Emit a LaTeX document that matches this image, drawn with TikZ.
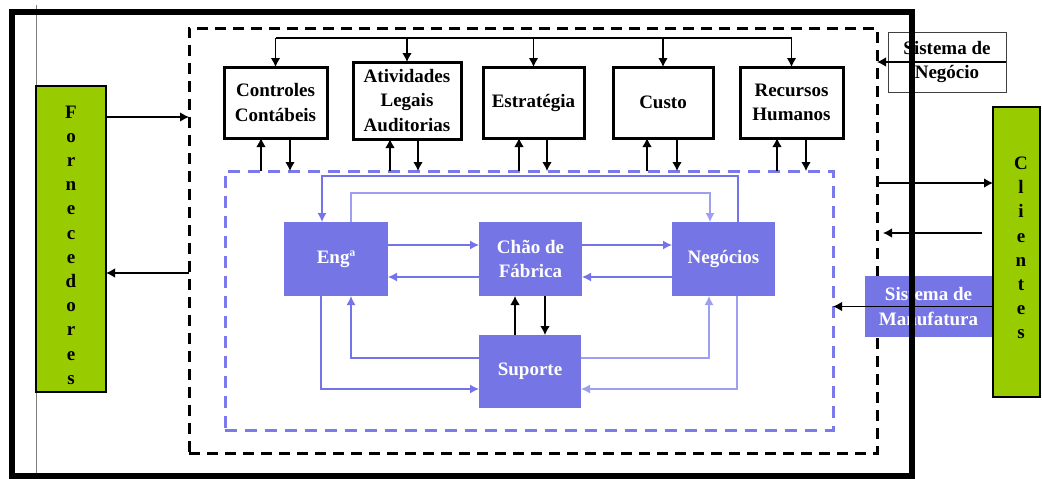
\documentclass[tikz,border=0pt]{standalone}
\usepackage{fontspec}
\setmainfont{Liberation Serif}
\usetikzlibrary{arrows.meta}

\definecolor{leafgreen}{RGB}{153,204,0}
\definecolor{blockblue}{RGB}{117,117,229}
\definecolor{dashblue}{RGB}{122,122,236}
\definecolor{linkblue}{RGB}{116,116,232}
\definecolor{paleblue}{RGB}{158,158,242}

\tikzset{
  boxfont/.style={font=\bfseries\fontsize{19}{24.5}\selectfont},
  cell/.style={anchor=north west, inner sep=0pt, outer sep=0pt, align=center, boxfont},
  topbox/.style={cell, draw=black, line width=3pt, fill=white},
  bluebox/.style={cell, fill=blockblue, text=white},
  greenbox/.style={cell, draw=black, line width=2.5pt, fill=leafgreen},
  tagbox/.style={cell, draw=black!75, line width=0.8pt, fill=white},
  zone/.style={cell, line width=3pt},
  vletters/.style={inner sep=0pt, align=center, font=\bfseries\fontsize{19}{24.2}\selectfont},
  flow/.style={line width=1.2pt, -{Latex[length=9pt,width=9.5pt]}},
  bflow/.style={draw=linkblue, line width=1.3pt, -{Latex[length=9pt,width=9pt]}},
  pflow/.style={draw=paleblue, line width=1.3pt, -{Latex[length=9pt,width=9pt]}},
}

\begin{document}
\begin{tikzpicture}[x=1pt,y=-1pt]
\fill[white] (0,0) rectangle (1042,479);
\useasboundingbox (0,0) rectangle (1042,479);

% thin rule along the left side
\draw[gray, line width=0.8pt] (36,5) -- (36,477);

% business system and manufacturing system zones
\node[zone, draw=black, dash pattern=on 11pt off 7pt, minimum width=688pt, minimum height=425pt] (biz) at (189,28) {};
\node[zone, draw=dashblue, dash pattern=on 12pt off 8pt, minimum width=608pt, minimum height=259pt] (mfg) at (225,171) {};

% suppliers and customers
\node[greenbox, minimum width=70pt, minimum height=306pt] (forn) at (36,86) {};
\node[vletters] (fornlbl) at ([yshift=-6pt]forn.center) {F\\o\\r\\n\\e\\c\\e\\d\\o\\r\\e\\s};
\node[greenbox, minimum width=47pt, minimum height=290pt] (cli) at (993,107) {};
\node[vletters] (clilbl) at ([xshift=4.5pt,yshift=4pt]cli.center) {C\\l\\i\\e\\n\\t\\e\\s};

% business functions
\node[topbox, minimum width=103pt, minimum height=71pt] (cc)  at (224,67) {Controles\\Contábeis};
\node[topbox, minimum width=108pt, minimum height=77pt] (ala) at (353,62) {Atividades\\Legais\\Auditorias};
\node[topbox, minimum width=101pt, minimum height=71pt] (est) at (483,67) {Estratégia};
\node[topbox, minimum width=100pt, minimum height=71pt] (cus) at (613,67) {Custo};
\node[topbox, minimum width=103pt, minimum height=71pt] (rh)  at (740,67) {Recursos\\Humanos};

% manufacturing functions
\node[bluebox, minimum width=104pt, minimum height=74pt] (eng)  at (284,222) {Engª};
\node[bluebox, minimum width=103pt, minimum height=74pt] (chao) at (479,222) {Chão de\\Fábrica};
\node[bluebox, minimum width=103pt, minimum height=74pt] (neg)  at (672,222) {Negócios};
\node[bluebox, minimum width=102pt, minimum height=73pt] (sup)  at (479,335) {Suporte};

% system tags
\node[tagbox, minimum width=118pt, minimum height=60pt] (negtag) at (888,32) {Sistema de\\Negócio};
\node[bluebox, minimum width=127pt, minimum height=61pt] (mantag) at (865,276) {Sistema de\\Manufatura};

% distribution bus over the business functions
\coordinate (bus1) at (cc.north |- 0,38);
\coordinate (bus5) at (rh.north |- 0,38);
\draw[line width=1.2pt] (bus1) -- (bus5);
\draw[flow] (bus1) -- (cc.north);
\draw[flow] (ala.north |- bus1) -- (ala.north);
\draw[flow] (est.north |- bus1) -- (est.north);
\draw[flow] (cus.north |- bus1) -- (cus.north);
\draw[flow] (bus5) -- (rh.north);

% exchanges between business functions and manufacturing zone
\draw[flow] (261,0 |- mfg.north) -- (261,0 |- cc.south);
\draw[flow] (290,0 |- cc.south) -- (290,0 |- mfg.north);
\draw[flow] (390,0 |- mfg.north) -- (390,0 |- ala.south);
\draw[flow] (418,0 |- ala.south) -- (418,0 |- mfg.north);
\draw[flow] (519,0 |- mfg.north) -- (519,0 |- est.south);
\draw[flow] (547,0 |- est.south) -- (547,0 |- mfg.north);
\draw[flow] (647,0 |- mfg.north) -- (647,0 |- cus.south);
\draw[flow] (677,0 |- cus.south) -- (677,0 |- mfg.north);
\draw[flow] (777,0 |- mfg.north) -- (777,0 |- rh.south);
\draw[flow] (806,0 |- rh.south) -- (806,0 |- mfg.north);

% flows inside the manufacturing zone
\draw[bflow] (738,0 |- neg.north) -- (738,176) -- (322,176) -- (322,0 |- eng.north);
\draw[pflow] (351,0 |- eng.north) -- (351,193) -- (710,193) -- (710,0 |- neg.north);
\draw[bflow] (eng.east |- 0,245) -- (chao.west |- 0,245);
\draw[bflow] (chao.west |- 0,277) -- (eng.east |- 0,277);
\draw[bflow] (chao.east |- 0,245) -- (neg.west |- 0,245);
\draw[bflow] (neg.west |- 0,277) -- (chao.east |- 0,277);
\draw[bflow] (321,0 |- eng.south) -- (321,389) -- (sup.west |- 0,389);
\draw[bflow] (sup.west |- 0,358) -- (351,358) -- (351,0 |- eng.south);
\draw[pflow] (sup.east |- 0,358) -- (709,358) -- (709,0 |- neg.south);
\draw[pflow] (737,0 |- neg.south) -- (737,389) -- (sup.east |- 0,389);
\draw[flow] (515,0 |- sup.north) -- (515,0 |- chao.south);
\draw[flow] (545,0 |- chao.south) -- (545,0 |- sup.north);

% suppliers
\draw[flow] (forn.east |- 0,117) -- (biz.west |- 0,117);
\draw[flow] (biz.west |- 0,273) -- (forn.east |- 0,273);

% customers and system tags
\draw[flow] (biz.east |- 0,183) -- (cli.west |- 0,183);
\coordinate (cliout) at (982,233);
\draw[flow] (cliout) -- ([xshift=6pt]biz.east |- cliout);
\draw[flow] (negtag.east) -- (biz.east |- negtag.east);
\draw[flow] (mantag.east) -- (mfg.east |- mantag.east);

% enterprise frame
\node[cell, draw=black, line width=6pt, minimum width=900pt, minimum height=464pt] (sysframe) at (12,12) {};
\end{tikzpicture}
\end{document}
